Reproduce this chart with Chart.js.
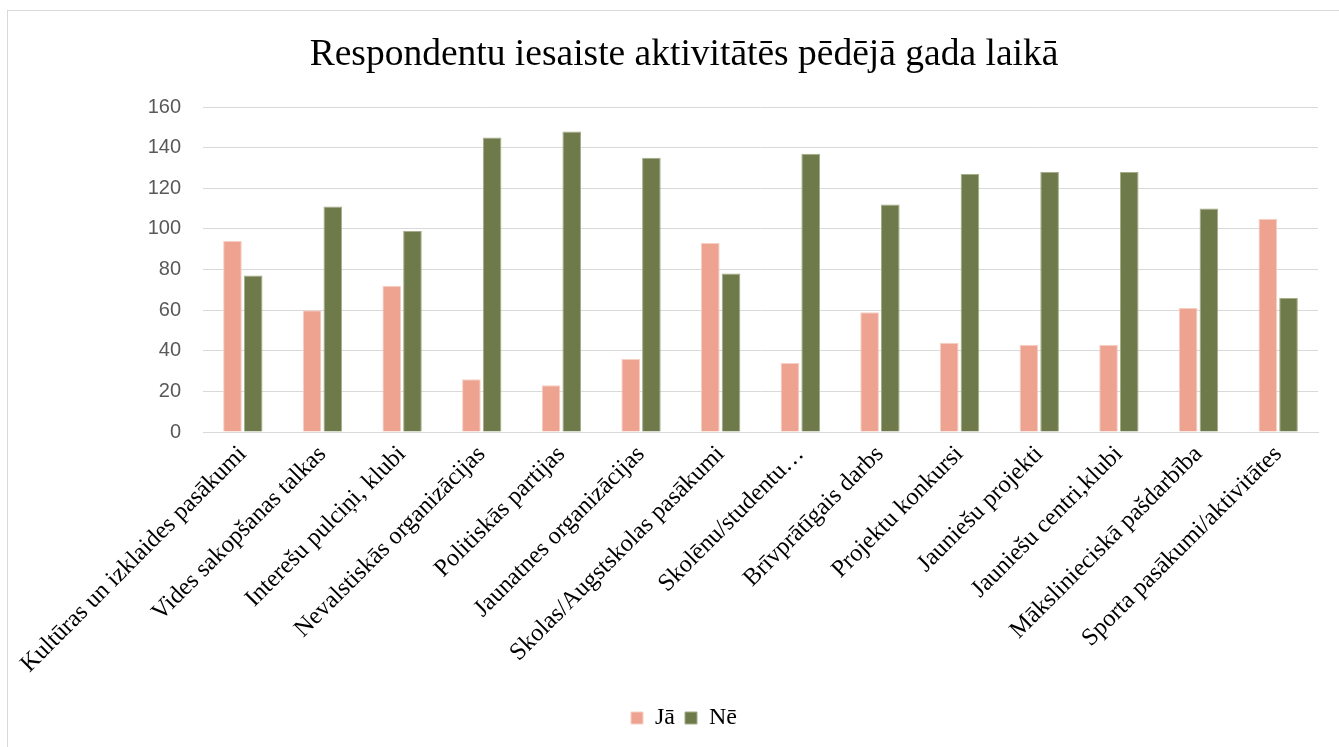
<!DOCTYPE html>
<html>
<head>
<meta charset="utf-8">
<script src="https://cdn.jsdelivr.net/npm/chart.js@4/dist/chart.umd.min.js"></script>
<style>
  html, body { margin: 0; padding: 0; background: #fff; overflow: hidden; }
  #frame { position: absolute; left: 7px; top: 10px; width: 1360px; height: 745px; border: 1px solid #d9d9d9; box-sizing: border-box; }
  #wrap { position: absolute; left: 8px; top: 11px; width: 1352px; height: 736px; }
</style>
</head>
<body>
<div id="frame"></div>
<div id="wrap"><canvas id="c"></canvas></div>
<script>
const categories = [
  "Kultūras un izklaides pasākumi",
  "Vides sakopšanas talkas",
  "Interešu pulciņi, klubi",
  "Nevalstiskās organizācijas",
  "Politiskās partijas",
  "Jaunatnes organizācijas",
  "Skolas/Augstskolas pasākumi",
  "Skolēnu/studentu…",
  "Brīvprātīgais darbs",
  "Projektu konkursi",
  "Jauniešu projekti",
  "Jauniešu centri,klubi",
  "Mākslinieciskā pašdarbība",
  "Sporta pasākumi/aktivitātes"
];
const seriesJa = [94, 60, 72, 26, 23, 36, 93, 34, 59, 44, 43, 43, 61, 105];
const seriesNe = [77, 111, 99, 145, 148, 135, 78, 137, 112, 127, 128, 128, 110, 66];
const yTicks = [0, 20, 40, 60, 80, 100, 120, 140, 160];
const titleText = "Respondentu iesaiste aktivitātēs pēdējā gada laikā";

new Chart(document.getElementById('c'), {
  type: 'bar',
  data: {
    labels: categories,
    datasets: [
      { label: 'Jā', data: seriesJa, backgroundColor: '#eea390', borderColor: '#f6cfc4', borderWidth: 1 },
      { label: 'Nē', data: seriesNe, backgroundColor: '#6e7a4a', borderColor: '#a3ad88', borderWidth: 1 }
    ]
  },
  options: {
    responsive: true,
    maintainAspectRatio: false,
    animation: false,
    layout: { padding: { left: 42, right: 42, top: 0, bottom: 7 } },
    datasets: { bar: { categoryPercentage: 0.52, barPercentage: 0.9 } },
    plugins: {
      title: {
        display: true,
        text: titleText,
        color: '#000',
        font: { family: '"Liberation Serif", "Times New Roman", serif', size: 37.5, weight: 'normal' },
        padding: { top: 22, bottom: 29 }
      },
      legend: {
        position: 'bottom',
        labels: {
          color: '#000',
          font: { family: '"Liberation Serif", "Times New Roman", serif', size: 24 },
          boxWidth: 12, boxHeight: 12, padding: 10
        }
      },
      tooltip: { enabled: false }
    },
    scales: {
      x: {
        grid: { display: false, drawTicks: false },
        border: { display: true, color: '#d9d9d9', width: 1 },
        ticks: {
          autoSkip: false, maxRotation: 45, minRotation: 45,
          color: '#000', padding: 8,
          font: { family: '"Liberation Serif", "Times New Roman", serif', size: 24.5 }
        },
        afterFit: s => { s.height = 264; }
      },
      y: {
        min: 0, max: 160,
        afterBuildTicks: s => { s.ticks = yTicks.map(v => ({ value: v })); },
        grid: { color: '#d9d9d9', lineWidth: 1, drawTicks: false },
        border: { display: false },
        ticks: {
          color: '#595959', padding: 22,
          font: { family: '"Liberation Sans", Arial, sans-serif', size: 20 }
        },
        afterFit: s => { s.width = 153; }
      }
    }
  }
});
</script>
</body>
</html>
